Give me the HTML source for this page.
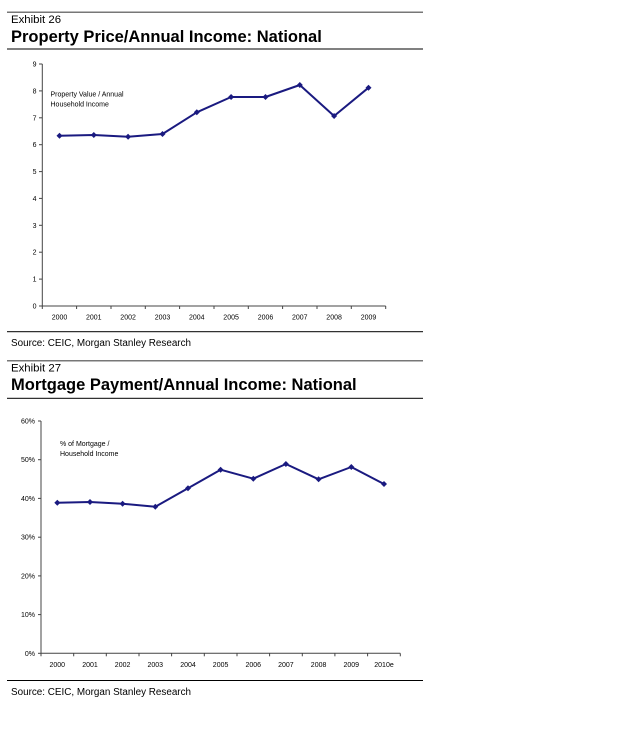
<!DOCTYPE html>
<html><head><meta charset="utf-8"><style>
html,body{margin:0;padding:0;background:#fff;}
body{width:640px;height:730px;overflow:hidden;position:relative;font-family:"Liberation Sans",Arial,sans-serif;}
</style></head><body>
<svg width="640" height="730" viewBox="0 0 640 730" xmlns="http://www.w3.org/2000/svg" style="position:absolute;left:0;top:0;font-family:'Liberation Sans',Arial,sans-serif">
<!-- Exhibit 26 -->
<rect x="7" y="11.5" width="416" height="1.5" fill="#777"/>
<text x="11" y="23" font-size="11.4" fill="#000">Exhibit 26</text>
<text x="11" y="42" font-size="16.5" font-weight="bold" fill="#000">Property Price/Annual Income: National</text>
<rect x="7" y="48.5" width="416" height="1" fill="#000"/>

<g stroke="#444" stroke-width="1" fill="none">
<line x1="42.3" y1="64" x2="42.3" y2="306"/>
<line x1="42.3" y1="306" x2="385.7" y2="306"/>
</g>
<g stroke="#444" stroke-width="1">
<line x1="39" y1="64" x2="42.3" y2="64"/>
<line x1="39" y1="90.9" x2="42.3" y2="90.9"/>
<line x1="39" y1="117.8" x2="42.3" y2="117.8"/>
<line x1="39" y1="144.7" x2="42.3" y2="144.7"/>
<line x1="39" y1="171.6" x2="42.3" y2="171.6"/>
<line x1="39" y1="198.4" x2="42.3" y2="198.4"/>
<line x1="39" y1="225.3" x2="42.3" y2="225.3"/>
<line x1="39" y1="252.2" x2="42.3" y2="252.2"/>
<line x1="39" y1="279.1" x2="42.3" y2="279.1"/>
<line x1="39" y1="306" x2="42.3" y2="306"/>
<line x1="42.3" y1="306" x2="42.3" y2="309"/>
<line x1="76.6" y1="306" x2="76.6" y2="309"/>
<line x1="111" y1="306" x2="111" y2="309"/>
<line x1="145.3" y1="306" x2="145.3" y2="309"/>
<line x1="179.6" y1="306" x2="179.6" y2="309"/>
<line x1="214" y1="306" x2="214" y2="309"/>
<line x1="248.3" y1="306" x2="248.3" y2="309"/>
<line x1="282.6" y1="306" x2="282.6" y2="309"/>
<line x1="317" y1="306" x2="317" y2="309"/>
<line x1="351.3" y1="306" x2="351.3" y2="309"/>
<line x1="385.7" y1="306" x2="385.7" y2="309"/>
</g>
<g font-size="7" fill="#000" text-anchor="end">
<text x="36.5" y="66.5">9</text>
<text x="36.5" y="93.4">8</text>
<text x="36.5" y="120.3">7</text>
<text x="36.5" y="147.2">6</text>
<text x="36.5" y="174.1">5</text>
<text x="36.5" y="200.9">4</text>
<text x="36.5" y="227.8">3</text>
<text x="36.5" y="254.7">2</text>
<text x="36.5" y="281.6">1</text>
<text x="36.5" y="308.5">0</text>
</g>
<g font-size="7" fill="#000" text-anchor="middle">
<text x="59.5" y="319.5">2000</text>
<text x="93.8" y="319.5">2001</text>
<text x="128.1" y="319.5">2002</text>
<text x="162.5" y="319.5">2003</text>
<text x="196.8" y="319.5">2004</text>
<text x="231.1" y="319.5">2005</text>
<text x="265.5" y="319.5">2006</text>
<text x="299.8" y="319.5">2007</text>
<text x="334.1" y="319.5">2008</text>
<text x="368.5" y="319.5">2009</text>
</g>
<text x="50.5" y="96.5" font-size="7" fill="#000">Property Value / Annual</text>
<text x="50.5" y="106.5" font-size="7" fill="#000">Household Income</text>
<polyline fill="none" stroke="#1a1a80" stroke-width="2" stroke-linejoin="round" points="59.5,135.7 93.8,135 128.1,136.7 162.5,134 196.8,112.3 231.1,97 265.5,97 299.8,85 334.1,116 368.5,87.7"/>
<g fill="#1a1a80">
<path d="M59.5,132.7 l3,3 l-3,3 l-3,-3z"/>
<path d="M93.8,132 l3,3 l-3,3 l-3,-3z"/>
<path d="M128.1,133.7 l3,3 l-3,3 l-3,-3z"/>
<path d="M162.5,131 l3,3 l-3,3 l-3,-3z"/>
<path d="M196.8,109.3 l3,3 l-3,3 l-3,-3z"/>
<path d="M231.1,94 l3,3 l-3,3 l-3,-3z"/>
<path d="M265.5,94 l3,3 l-3,3 l-3,-3z"/>
<path d="M299.8,82 l3,3 l-3,3 l-3,-3z"/>
<path d="M334.1,113 l3,3 l-3,3 l-3,-3z"/>
<path d="M368.5,84.7 l3,3 l-3,3 l-3,-3z"/>
</g>
<rect x="7" y="331.2" width="416" height="1" fill="#000"/>
<text x="11" y="346" font-size="9.9" fill="#000">Source: CEIC, Morgan Stanley Research</text>

<!-- Exhibit 27 -->
<rect x="7" y="360" width="416" height="1.5" fill="#777"/>
<text x="11" y="371.5" font-size="11.4" fill="#000">Exhibit 27</text>
<text x="11" y="390" font-size="16.5" font-weight="bold" fill="#000">Mortgage Payment/Annual Income: National</text>
<rect x="7" y="397.8" width="416" height="1" fill="#000"/>

<g stroke="#444" stroke-width="1" fill="none">
<line x1="41" y1="421" x2="41" y2="653.3"/>
<line x1="41" y1="653.3" x2="400.3" y2="653.3"/>
</g>
<g stroke="#444" stroke-width="1">
<line x1="38" y1="421" x2="41" y2="421"/>
<line x1="38" y1="459.7" x2="41" y2="459.7"/>
<line x1="38" y1="498.4" x2="41" y2="498.4"/>
<line x1="38" y1="537.2" x2="41" y2="537.2"/>
<line x1="38" y1="575.9" x2="41" y2="575.9"/>
<line x1="38" y1="614.6" x2="41" y2="614.6"/>
<line x1="38" y1="653.3" x2="41" y2="653.3"/>
<line x1="41" y1="653.3" x2="41" y2="656.3"/>
<line x1="73.7" y1="653.3" x2="73.7" y2="656.3"/>
<line x1="106.3" y1="653.3" x2="106.3" y2="656.3"/>
<line x1="139" y1="653.3" x2="139" y2="656.3"/>
<line x1="171.6" y1="653.3" x2="171.6" y2="656.3"/>
<line x1="204.3" y1="653.3" x2="204.3" y2="656.3"/>
<line x1="237" y1="653.3" x2="237" y2="656.3"/>
<line x1="269.6" y1="653.3" x2="269.6" y2="656.3"/>
<line x1="302.3" y1="653.3" x2="302.3" y2="656.3"/>
<line x1="334.9" y1="653.3" x2="334.9" y2="656.3"/>
<line x1="367.6" y1="653.3" x2="367.6" y2="656.3"/>
<line x1="400.3" y1="653.3" x2="400.3" y2="656.3"/>
</g>
<g font-size="7" fill="#000" text-anchor="end">
<text x="35" y="423.5">60%</text>
<text x="35" y="462.2">50%</text>
<text x="35" y="500.9">40%</text>
<text x="35" y="539.7">30%</text>
<text x="35" y="578.4">20%</text>
<text x="35" y="617.1">10%</text>
<text x="35" y="655.8">0%</text>
</g>
<g font-size="7" fill="#000" text-anchor="middle">
<text x="57.3" y="667">2000</text>
<text x="90" y="667">2001</text>
<text x="122.6" y="667">2002</text>
<text x="155.3" y="667">2003</text>
<text x="188" y="667">2004</text>
<text x="220.6" y="667">2005</text>
<text x="253.3" y="667">2006</text>
<text x="285.9" y="667">2007</text>
<text x="318.6" y="667">2008</text>
<text x="351.3" y="667">2009</text>
<text x="384" y="667">2010e</text>
</g>
<text x="60" y="445.8" font-size="7" fill="#000">% of Mortgage /</text>
<text x="60" y="456.2" font-size="7" fill="#000">Household Income</text>
<polyline fill="none" stroke="#1a1a80" stroke-width="2" stroke-linejoin="round" points="57.3,502.7 90,502 122.6,503.7 155.3,506.7 188,488.3 220.6,469.7 253.3,478.7 285.9,464 318.6,479.3 351.3,467 384,484"/>
<g fill="#1a1a80">
<path d="M57.3,499.7 l3,3 l-3,3 l-3,-3z"/>
<path d="M90,499 l3,3 l-3,3 l-3,-3z"/>
<path d="M122.6,500.7 l3,3 l-3,3 l-3,-3z"/>
<path d="M155.3,503.7 l3,3 l-3,3 l-3,-3z"/>
<path d="M188,485.3 l3,3 l-3,3 l-3,-3z"/>
<path d="M220.6,466.7 l3,3 l-3,3 l-3,-3z"/>
<path d="M253.3,475.7 l3,3 l-3,3 l-3,-3z"/>
<path d="M285.9,461 l3,3 l-3,3 l-3,-3z"/>
<path d="M318.6,476.3 l3,3 l-3,3 l-3,-3z"/>
<path d="M351.3,464 l3,3 l-3,3 l-3,-3z"/>
<path d="M384,481 l3,3 l-3,3 l-3,-3z"/>
</g>
<rect x="7" y="680" width="416" height="1" fill="#000"/>
<text x="11" y="695" font-size="9.9" fill="#000">Source: CEIC, Morgan Stanley Research</text>
</svg>
</body></html>
